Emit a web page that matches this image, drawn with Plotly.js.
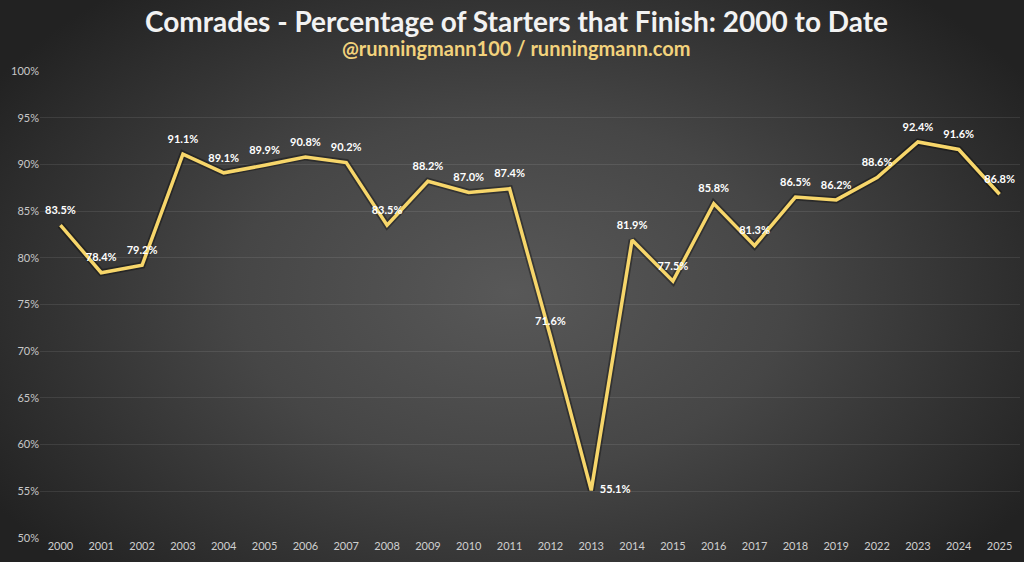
<!DOCTYPE html>
<html>
<head>
<meta charset="utf-8">
<script src="https://cdn.plot.ly/plotly-3.0.1.min.js"></script>
<style>
html,body{margin:0;padding:0;width:1024px;height:562px;overflow:hidden;}
body{background:radial-gradient(ellipse 60% 70% at 50% 52%, #585858 0%, #464646 45%, #2c2c2c 85%, #222 100%);}
#chart{width:1024px;height:562px;}
</style>
</head>
<body>
<div id="chart"></div>
<script>
const years = ["2000","2001","2002","2003","2004","2005","2006","2007","2008","2009","2010","2011","2012","2013","2014","2015","2016","2017","2018","2019","2022","2023","2024","2025"];
const finishPct = [83.5,78.4,79.2,91.1,89.1,89.9,90.8,90.2,83.5,88.2,87.0,87.4,71.6,55.1,81.9,77.5,85.8,81.3,86.5,86.2,88.6,92.4,91.6,86.8];
const yTicks = [50,55,60,65,70,75,80,85,90,95,100];
const yTickLabels = yTicks.map(v => v + "%");
const titleText = "Comrades - Percentage of Starters that Finish: 2000 to Date";
const subtitleText = "@runningmann100 / runningmann.com";

const labelText = finishPct.map(v => v.toFixed(1) + "%");
const labelPos = years.map(y => y === "2013" ? "middle right" : "top center");

const font = "Lato, 'Open Sans', 'DejaVu Sans', sans-serif";

const traces = [
  {
    x: years, y: finishPct, type: "scatter", mode: "lines",
    line: {color: "rgba(0,0,0,0.35)", width: 7},
    hoverinfo: "skip", showlegend: false
  },
  {
    x: years, y: finishPct, type: "scatter", mode: "lines+markers+text",
    line: {color: "#F7D66A", width: 3.5},
    marker: {size: 12, color: "rgba(0,0,0,0)"},
    text: labelText, textposition: labelPos,
    textfont: {family: font, size: 11, color: "#ffffff", weight: "bold"},
    cliponaxis: false, showlegend: false
  }
];

const layout = {
  width: 1024, height: 562,
  margin: {l: 40, r: 4, t: 71, b: 24},
  paper_bgcolor: "rgba(0,0,0,0)",
  plot_bgcolor: "rgba(0,0,0,0)",
  annotations: [
    {text: "<b>" + titleText + "</b>", xref: "paper", yref: "paper", x: 0.486, y: 1.108,
     xanchor: "center", yanchor: "middle", showarrow: false,
     font: {family: font, size: 28, color: "#f2f2f2"}},
    {text: "<b>" + subtitleText + "</b>", xref: "paper", yref: "paper", x: 0.486, y: 1.0495,
     xanchor: "center", yanchor: "middle", showarrow: false,
     font: {family: font, size: 20, color: "#F2D27C"}}
  ],
  xaxis: {
    type: "category", categoryarray: years, range: [-0.5, years.length - 0.5],
    tickfont: {family: font, size: 11, color: "#cfcfcf"},
    showgrid: false, zeroline: false, showline: false, ticks: ""
  },
  yaxis: {
    range: [50, 100], tickvals: yTicks, ticktext: yTickLabels,
    tickfont: {family: font, size: 11, color: "#c8c8c8"},
    gridcolor: "rgba(255,255,255,0.09)", gridwidth: 1,
    zeroline: false, showline: false, ticks: ""
  }
};

Plotly.newPlot("chart", traces, layout, {displayModeBar: false, staticPlot: true});
</script>
</body>
</html>
